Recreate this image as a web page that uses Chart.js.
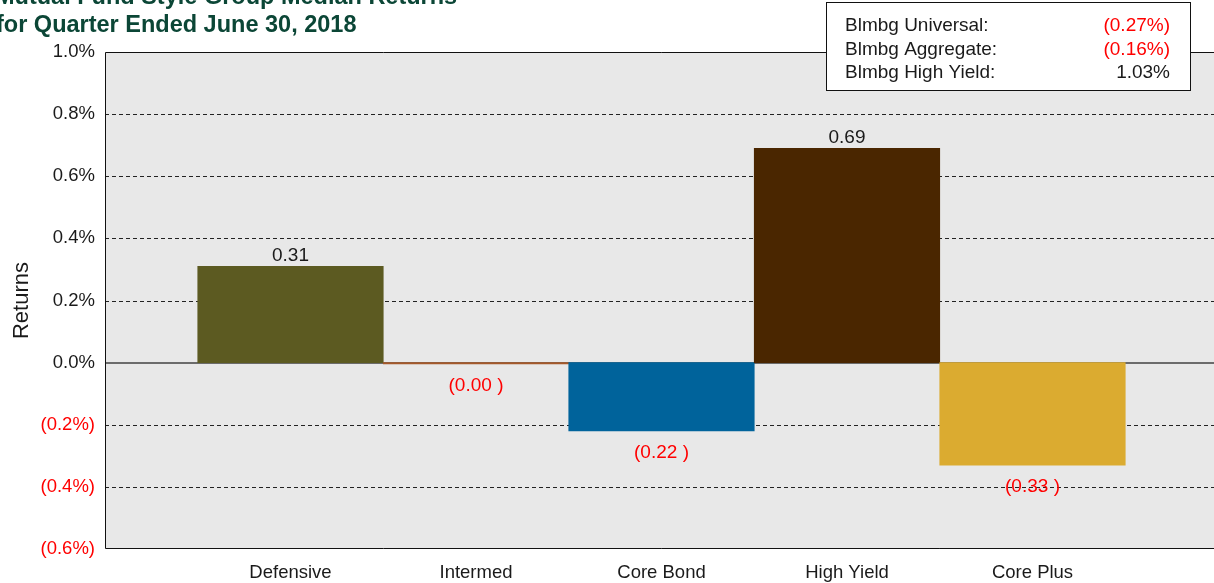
<!DOCTYPE html>
<html lang="en">
<head>
<meta charset="UTF-8">
<title>Mutual Fund Style Group Median Returns</title>
<script src="https://cdn.jsdelivr.net/npm/chart.js"></script>
<style>
    body { margin: 0; overflow: hidden; background: #fff; }
    #wrap { width: 1231px; height: 583px; }
</style>
</head>
<body>
<div id="wrap"><canvas id="returnsChart" width="1231" height="583"></canvas></div>
<script>
    const titleLines = ['Mutual Fund Style Group Median Returns', 'for Quarter Ended June 30, 2018'];
    // empty slot at each end of the axis
    const categories = ['', 'Defensive', 'Intermed', 'Core Bond', 'High Yield', 'Core Plus', ''];
    const medianReturns = [null, 0.31, -0.004, -0.22, 0.69, -0.33, null];
    const barColors = [null, '#5c5a21', '#a5592a', '#00639b', '#4a2600', '#dbab30', null];
    const yMin = -0.6, yMax = 1.0, yStep = 0.2;
    const benchmarkNames = ['Blmbg Universal:', 'Blmbg Aggregate:', 'Blmbg High Yield:'];
    const benchmarkReturns = [-0.27, -0.16, 1.03];

    const RED = '#ff0000';
    const INK = '#1a1a1a';
    const FONT = '"Liberation Sans", Arial, sans-serif';
    Chart.defaults.font.family = FONT;

    function pct(v, digits) {
        const s = Math.abs(v).toFixed(digits) + '%';
        return v < 0 ? '(' + s + ')' : s;
    }

    function barLabel(v) {
        return v < 0 ? '(' + Math.abs(v).toFixed(2) + ' )' : v.toFixed(2);
    }

    // grey plot background, dashed grid, solid zero line and frame
    const plotArea = {
        id: 'plotArea',
        beforeDatasetsDraw(chart) {
            const { ctx, chartArea: a } = chart;
            const y = chart.scales.y;
            ctx.save();
            ctx.fillStyle = '#e8e8e8';
            ctx.fillRect(a.left, a.top, a.right - a.left, a.bottom - a.top);

            y.ticks.forEach(t => {
                if (t.value <= yMin + 1e-9 || t.value >= yMax - 1e-9) return;
                ctx.beginPath();
                if (Math.abs(t.value) < 1e-9) {
                    const py = Math.round(y.getPixelForValue(t.value));
                    ctx.setLineDash([]);
                    ctx.strokeStyle = '#6b6b6b';
                    ctx.lineWidth = 2;
                    ctx.moveTo(a.left, py);
                    ctx.lineTo(a.right, py);
                } else {
                    const py = Math.round(y.getPixelForValue(t.value)) + 0.5;
                    ctx.setLineDash([4, 3]);
                    ctx.strokeStyle = '#222';
                    ctx.lineWidth = 1;
                    ctx.moveTo(a.left, py);
                    ctx.lineTo(a.right, py);
                }
                ctx.stroke();
            });

            ctx.setLineDash([]);
            ctx.strokeStyle = '#111';
            ctx.lineWidth = 1;
            ctx.beginPath();
            ctx.moveTo(a.right, Math.round(a.top) + 0.5);
            ctx.lineTo(Math.round(a.left) + 0.5, Math.round(a.top) + 0.5);
            ctx.lineTo(Math.round(a.left) + 0.5, Math.round(a.bottom) - 0.5);
            ctx.lineTo(a.right, Math.round(a.bottom) - 0.5);
            ctx.stroke();
            ctx.restore();
        }
    };

    // value above positive bars, red bracketed value below negative ones
    const barValues = {
        id: 'barValues',
        afterDatasetsDraw(chart) {
            const { ctx } = chart;
            const meta = chart.getDatasetMeta(0);
            ctx.save();
            ctx.font = '19px ' + FONT;
            ctx.textAlign = 'center';
            meta.data.forEach((bar, i) => {
                const v = medianReturns[i];
                if (v === null) return;
                if (v >= 0) {
                    ctx.fillStyle = INK;
                    ctx.textBaseline = 'alphabetic';
                    ctx.fillText(barLabel(v), bar.x, bar.y - 5);
                } else {
                    ctx.fillStyle = RED;
                    ctx.textBaseline = 'middle';
                    ctx.fillText(barLabel(v), bar.x, bar.y + 22);
                }
            });
            ctx.restore();
        }
    };

    // heading (runs off the left edge) and benchmark box
    const headerAndBox = {
        id: 'headerAndBox',
        afterDraw(chart) {
            const { ctx } = chart;
            ctx.save();
            ctx.fillStyle = '#0b4636';
            ctx.font = 'bold 23.5px ' + FONT;
            ctx.textAlign = 'left';
            ctx.textBaseline = 'alphabetic';
            ctx.fillText(titleLines[0], -5, 4);
            ctx.fillText(titleLines[1], -4, 32);

            const bx = 826, by = 2, bw = 364, bh = 88;
            ctx.fillStyle = '#fff';
            ctx.fillRect(bx, by, bw, bh);
            ctx.strokeStyle = '#111';
            ctx.lineWidth = 1;
            ctx.strokeRect(bx + 0.5, by + 0.5, bw, bh);

            ctx.font = '19px ' + FONT;
            benchmarkNames.forEach((name, i) => {
                const base = 31 + i * 23.5;
                ctx.textAlign = 'left';
                ctx.fillStyle = INK;
                ctx.fillText(name, 845, base);
                const v = benchmarkReturns[i];
                ctx.textAlign = 'right';
                ctx.fillStyle = v < 0 ? RED : INK;
                ctx.fillText(pct(v, 2), 1170, base);
            });
            ctx.restore();
        }
    };

    new Chart(document.getElementById('returnsChart'), {
        type: 'bar',
        data: {
            labels: categories,
            datasets: [{
                data: medianReturns,
                backgroundColor: barColors,
                borderWidth: 0,
                barPercentage: 1,
                categoryPercentage: 1
            }]
        },
        options: {
            responsive: false,
            animation: false,
            layout: { padding: { top: 52 } },
            plugins: {
                legend: { display: false },
                tooltip: { enabled: false }
            },
            scales: {
                x: {
                    offset: false,
                    grid: { display: false, drawTicks: false },
                    border: { display: false },
                    ticks: {
                        color: INK,
                        font: { size: 18.5 },
                        padding: 13,
                        autoSkip: false,
                        maxRotation: 0
                    },
                    afterFit(scale) { scale.height = 34; }
                },
                y: {
                    min: yMin,
                    max: yMax,
                    grid: { display: false, drawTicks: false },
                    border: { display: false },
                    ticks: {
                        stepSize: yStep,
                        padding: 10,
                        font: { size: 18.5 },
                        color: c => c.tick.value < -1e-9 ? RED : INK,
                        callback: v => pct(Math.abs(v) < 1e-9 ? 0 : v, 1)
                    },
                    title: {
                        display: true,
                        text: 'Returns',
                        color: INK,
                        font: { size: 22 },
                        padding: { top: 9, bottom: 0 }
                    },
                    afterFit(scale) { scale.width = 105; }
                }
            }
        },
        plugins: [plotArea, barValues, headerAndBox]
    });
</script>
</body>
</html>
